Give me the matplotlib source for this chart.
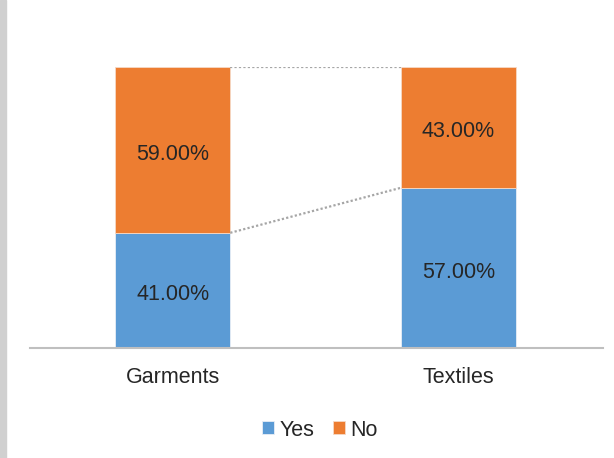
import matplotlib.pyplot as plt
from matplotlib.patches import Rectangle

plt.rcParams['font.family'] = ['Liberation Sans', 'DejaVu Sans']

# datos del grafico
categorias = ['Garments', 'Textiles']
si = [0.41, 0.57]
no = [0.59, 0.43]

azul = '#5B9BD5'
naranja = '#ED7D31'
texto = '#262626'
fs = 15.5

fig = plt.figure(figsize=(6.14, 4.58), dpi=100)
ax = fig.add_axes([30/614, 110/458, 573/614, 281/458])

# franja gris del borde izquierdo
fig.patches.append(Rectangle((0, 0), 6/614, 1, transform=fig.transFigure,
                             color='#d0d0d0', zorder=0))

x = range(len(categorias))
ancho = 0.403
b1 = ax.bar(x, si, ancho, color=azul, label='Yes', edgecolor='#e8eef6', linewidth=0.6)
b2 = ax.bar(x, no, ancho, bottom=si, color=naranja, label='No', edgecolor='#f5d9c6', linewidth=0.6)

# lineas de serie entre las barras
for serie in [si, [a + b for a, b in zip(si, no)]]:
    ax.plot([0 + ancho/2, 1 - ancho/2], serie, ls=(0, (1, 1)), color='#a6a6a6', lw=1.6)

# etiquetas de valores
for i in x:
    ax.text(i, si[i]/2 - 0.015, f'{si[i]*100:.2f}%', ha='center', va='center', fontsize=fs, color=texto)
    ax.text(i, si[i] + no[i]/2 - 0.015, f'{no[i]*100:.2f}%', ha='center', va='center', fontsize=fs, color=texto)

ax.set_xlim(-0.5, 1.507)
ax.set_ylim(0, 1)
ax.set_xticks(list(x))
ax.set_xticklabels(categorias, fontsize=fs, color=texto)
ax.tick_params(axis='x', length=0, pad=14)
ax.set_yticks([])
for lado in ['top', 'right', 'left']:
    ax.spines[lado].set_visible(False)
ax.spines['bottom'].set_color('#bfbfbf')
ax.spines['bottom'].set_linewidth(1.5)

fig.legend(loc='center', bbox_to_anchor=(320/614, 1 - 430/458), ncol=2, frameon=False,
           fontsize=fs, handlelength=0.55, handleheight=0.55, handletextpad=0.25,
           columnspacing=0.9, labelcolor=texto)

fig.savefig('out.png', dpi=100)
